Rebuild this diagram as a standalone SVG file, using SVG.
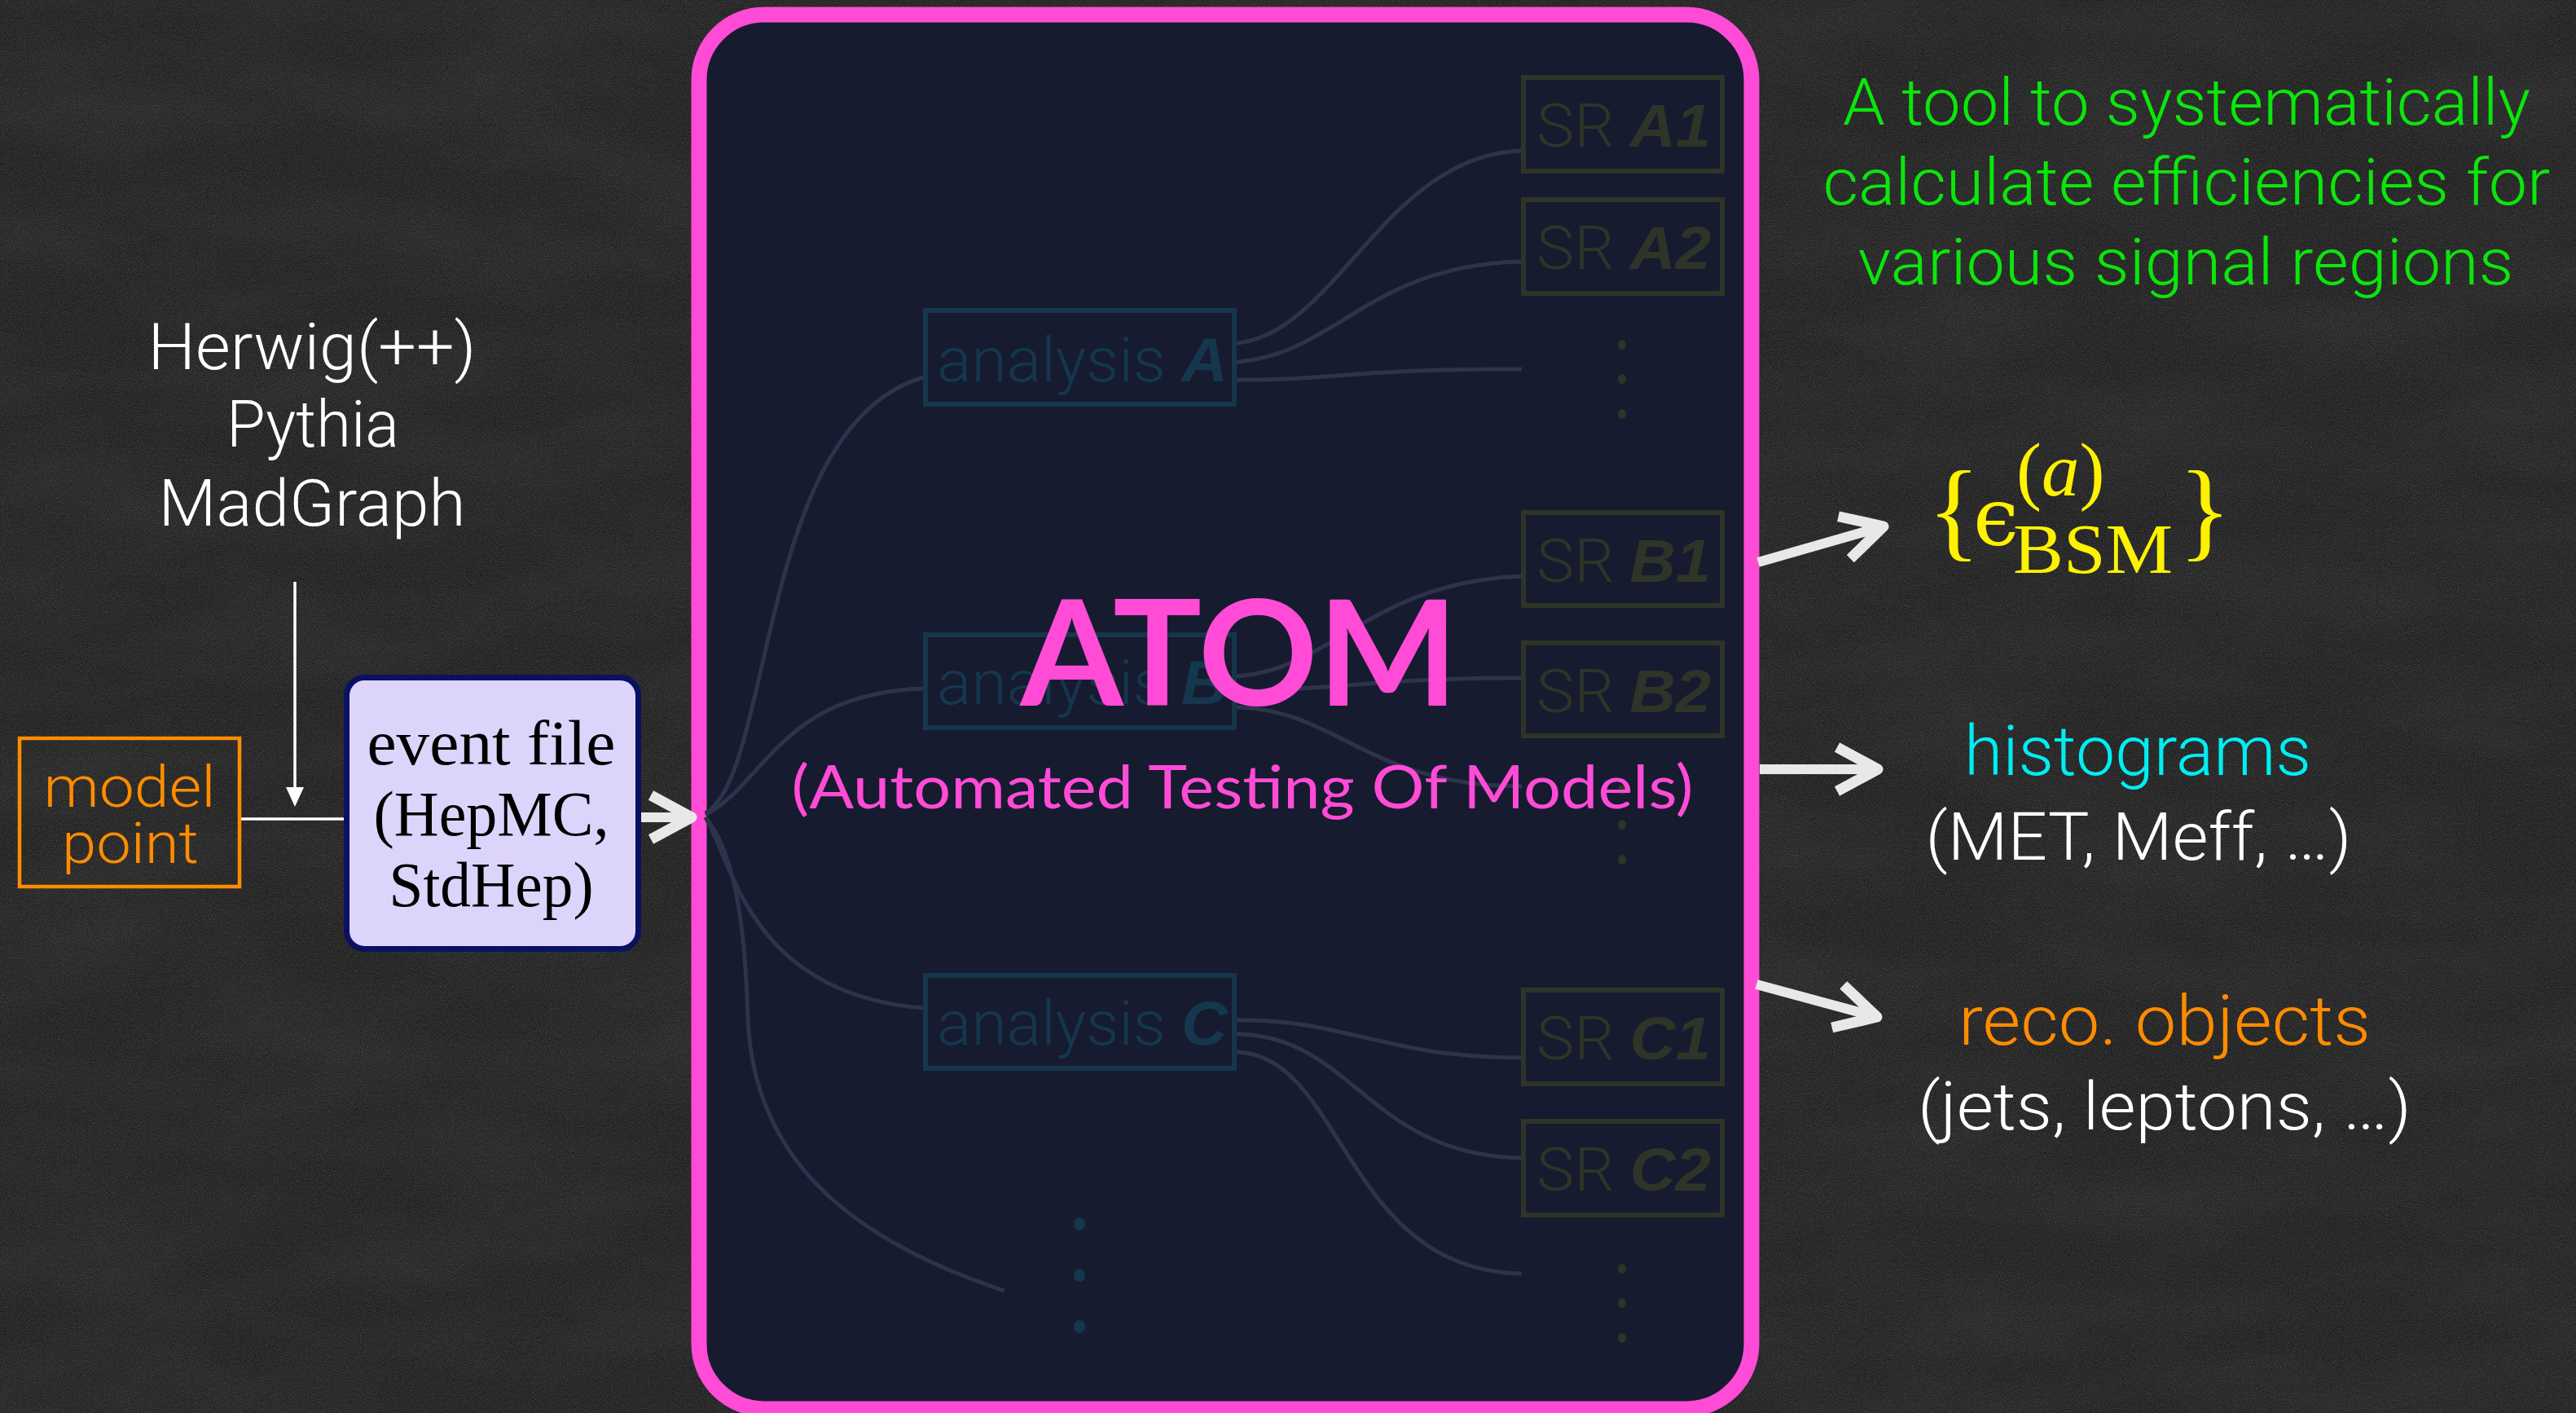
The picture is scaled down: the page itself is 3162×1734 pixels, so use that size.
<svg xmlns="http://www.w3.org/2000/svg" width="3162" height="1734" viewBox="0 0 3162 1734">
<defs>
<style>
.light{font-family:Roboto,"Liberation Sans",sans-serif;font-weight:300}
.conn{fill:none;stroke:#2e334c;stroke-width:5}
.anbox{fill:none;stroke:#15364b;stroke-width:6}
.srbox{fill:none;stroke:#2f3428;stroke-width:6}
.antxt{font-family:Roboto,"Liberation Sans",sans-serif;font-weight:300;font-size:76px;fill:#15374d}
.srtxt{font-family:Roboto,"Liberation Sans",sans-serif;font-weight:300;font-size:74px;fill:#2f3428}
.bi{font-family:"Liberation Sans",Arial,sans-serif;font-weight:700;font-style:italic}
.srdot{fill:#2f3428}
.andot{fill:#15374d}
.warrow{fill:none;stroke:#e8e8e8;stroke-width:12}
.serif{font-family:"Liberation Serif","Times New Roman",serif}
.math{font-family:"Liberation Serif","DejaVu Serif",serif;fill:#fff200}
</style>
<filter id="chalk" x="0" y="0" width="100%" height="100%" filterUnits="userSpaceOnUse">
<feTurbulence type="fractalNoise" baseFrequency="0.85" numOctaves="2" seed="7" result="n"/>
<feColorMatrix in="n" type="matrix" values="0 0 0 0 1  0 0 0 0 1  0 0 0 0 1  0.32 0 0 0 -0.11" result="speck"/>
<feTurbulence type="fractalNoise" baseFrequency="0.004 0.012" numOctaves="3" seed="2" result="s"/>
<feColorMatrix in="s" type="matrix" values="0 0 0 0 1  0 0 0 0 1  0 0 0 0 1  0.06 0 0 0 -0.02" result="streak"/>
<feMerge><feMergeNode in="streak"/><feMergeNode in="speck"/></feMerge>
</filter>
<marker id="chev" markerUnits="userSpaceOnUse" viewBox="-60 -36 70 72" refX="0" refY="0" markerWidth="70" markerHeight="72" orient="auto">
<path d="M-50,-27 L0,0 L-50,27" fill="none" stroke="#e8e8e8" stroke-width="13" stroke-linejoin="round"/>
</marker>
</defs>

<g id="background">
<rect x="0" y="0" width="3162" height="1734" fill="#1e1e1e"/>
<rect x="0" y="0" width="3162" height="1734" fill="#000" filter="url(#chalk)"/>
</g>

<g id="atom-frame">
<rect x="858" y="18" width="1292" height="1711" rx="80" ry="80" fill="#161b2f" stroke="#ff4bd6" stroke-width="19"/>
</g>

<g id="connectors">
<path class="conn" d="M866,998 C950,950 930,520 1134,463"/>
<path class="conn" d="M866,1000 C940,960 960,850 1134,845"/>
<path class="conn" d="M866,1003 C900,1060 920,1220 1134,1237"/>
<path class="conn" d="M866,1003 C905,1050 915,1150 918,1250 C925,1420 1040,1520 1233,1584"/>
<path class="conn" d="M1518,421 C1640,410 1700,190 1868,185"/>
<path class="conn" d="M1518,444 C1640,435 1680,325 1868,321"/>
<path class="conn" d="M1518,466 C1650,466 1650,453 1868,453"/>
<path class="conn" d="M1518,830 C1640,820 1680,715 1868,707"/>
<path class="conn" d="M1518,849 C1650,845 1700,832 1868,832"/>
<path class="conn" d="M1518,868 C1640,870 1680,965 1868,965"/>
<path class="conn" d="M1518,1252 C1650,1250 1700,1298 1868,1298"/>
<path class="conn" d="M1518,1269 C1660,1270 1680,1418 1868,1421"/>
<path class="conn" d="M1518,1291 C1650,1295 1650,1560 1868,1563"/>
<line x1="362" y1="714" x2="362" y2="970" stroke="#ffffff" stroke-width="3.5"/>
<polygon points="351,966 373,966 362,990" fill="#ffffff"/>
<line x1="296" y1="1005" x2="424" y2="1005" stroke="#ffffff" stroke-width="3.5"/>
<path class="warrow" d="M782,1003 L849,1003" marker-end="url(#chev)"/>
<path class="warrow" d="M2158,690 L2312,646" marker-end="url(#chev)"/>
<path class="warrow" d="M2160,944 L2305,944" marker-end="url(#chev)"/>
<path class="warrow" d="M2156,1208 L2304,1248" marker-end="url(#chev)"/>
</g>

<g id="analysis-A">
<rect class="anbox" x="1136" y="381" width="379" height="115"/>
<text class="antxt" x="1150" y="468" textLength="357" lengthAdjust="spacingAndGlyphs">analysis <tspan class="bi">A</tspan></text>
</g>
<g id="analysis-B">
<rect class="anbox" x="1136" y="779" width="379" height="114"/>
<text class="antxt" x="1150" y="864" textLength="357" lengthAdjust="spacingAndGlyphs">analysis <tspan class="bi">B</tspan></text>
</g>
<g id="analysis-C">
<rect class="anbox" x="1136" y="1197" width="379" height="114"/>
<text class="antxt" x="1150" y="1282" textLength="357" lengthAdjust="spacingAndGlyphs">analysis <tspan class="bi">C</tspan></text>
</g>
<g id="analysis-dots">
<ellipse class="andot" cx="1325" cy="1502" rx="7" ry="8"/>
<ellipse class="andot" cx="1325" cy="1565" rx="7" ry="8"/>
<ellipse class="andot" cx="1325" cy="1628" rx="7" ry="8"/>
</g>

<g id="SR-A1">
<rect class="srbox" x="1870" y="95" width="244" height="115"/>
<text class="srtxt" x="1886" y="180" textLength="214" lengthAdjust="spacingAndGlyphs">SR <tspan class="bi">A1</tspan></text>
</g>
<g id="SR-A2">
<rect class="srbox" x="1870" y="245" width="244" height="115"/>
<text class="srtxt" x="1886" y="330" textLength="214" lengthAdjust="spacingAndGlyphs">SR <tspan class="bi">A2</tspan></text>
</g>
<g id="SR-A-dots">
<ellipse class="srdot" cx="1991" cy="423" rx="5" ry="6"/>
<ellipse class="srdot" cx="1991" cy="465" rx="5" ry="6"/>
<ellipse class="srdot" cx="1991" cy="508" rx="5" ry="6"/>
</g>
<g id="SR-B1">
<rect class="srbox" x="1870" y="629" width="244" height="114"/>
<text class="srtxt" x="1886" y="714" textLength="214" lengthAdjust="spacingAndGlyphs">SR <tspan class="bi">B1</tspan></text>
</g>
<g id="SR-B2">
<rect class="srbox" x="1870" y="789" width="244" height="114"/>
<text class="srtxt" x="1886" y="874" textLength="214" lengthAdjust="spacingAndGlyphs">SR <tspan class="bi">B2</tspan></text>
</g>
<g id="SR-B-dots">
<ellipse class="srdot" cx="1991" cy="969" rx="5" ry="6"/>
<ellipse class="srdot" cx="1991" cy="1012" rx="5" ry="6"/>
<ellipse class="srdot" cx="1991" cy="1055" rx="5" ry="6"/>
</g>
<g id="SR-C1">
<rect class="srbox" x="1870" y="1215" width="244" height="115"/>
<text class="srtxt" x="1886" y="1300" textLength="214" lengthAdjust="spacingAndGlyphs">SR <tspan class="bi">C1</tspan></text>
</g>
<g id="SR-C2">
<rect class="srbox" x="1870" y="1376" width="244" height="115"/>
<text class="srtxt" x="1886" y="1461" textLength="214" lengthAdjust="spacingAndGlyphs">SR <tspan class="bi">C2</tspan></text>
</g>
<g id="SR-C-dots">
<ellipse class="srdot" cx="1991" cy="1557" rx="5" ry="6"/>
<ellipse class="srdot" cx="1991" cy="1599" rx="5" ry="6"/>
<ellipse class="srdot" cx="1991" cy="1642" rx="5" ry="6"/>
</g>

<g id="atom-title">
<text x="1521" y="866" text-anchor="middle" font-family="Lato,'Open Sans',sans-serif" font-weight="700" font-size="180" fill="#ff4bd6" textLength="537" lengthAdjust="spacingAndGlyphs">ATOM</text>
<text x="1525" y="992" text-anchor="middle" font-family="Lato,'Open Sans',sans-serif" font-weight="400" font-size="74" fill="#ff4bd6" textLength="1107" lengthAdjust="spacingAndGlyphs">(Automated Testing Of Models)</text>
</g>

<g id="generators">
<text class="light" x="383" y="453" text-anchor="middle" font-size="80" fill="#ffffff" textLength="403" lengthAdjust="spacingAndGlyphs">Herwig(++)</text>
<text class="light" x="384" y="548" text-anchor="middle" font-size="80" fill="#ffffff" textLength="212" lengthAdjust="spacingAndGlyphs">Pythia</text>
<text class="light" x="383" y="645" text-anchor="middle" font-size="80" fill="#ffffff" textLength="377" lengthAdjust="spacingAndGlyphs">MadGraph</text>
</g>

<g id="model-point">
<rect x="24" y="906" width="270" height="182" fill="none" stroke="#ff8c00" stroke-width="4.5"/>
<text class="light" x="159" y="990" text-anchor="middle" font-size="70" fill="#ff8c00" textLength="211" lengthAdjust="spacingAndGlyphs">model</text>
<text class="light" x="160" y="1059" text-anchor="middle" font-size="70" fill="#ff8c00" textLength="168" lengthAdjust="spacingAndGlyphs">point</text>
</g>

<g id="event-file">
<rect x="425.5" y="831.5" width="358" height="333" rx="22" ry="22" fill="#ddd4fb" stroke="#0b1160" stroke-width="7"/>
<text class="serif" x="603" y="938" text-anchor="middle" font-size="78" fill="#000000" textLength="305" lengthAdjust="spacingAndGlyphs">event file</text>
<text class="serif" x="603" y="1025" text-anchor="middle" font-size="78" fill="#000000" textLength="289" lengthAdjust="spacingAndGlyphs">(HepMC,</text>
<text class="serif" x="603" y="1112" text-anchor="middle" font-size="78" fill="#000000" textLength="251" lengthAdjust="spacingAndGlyphs">StdHep)</text>
</g>

<g id="description">
<text class="light" x="2684" y="153" text-anchor="middle" font-size="80" fill="#0be60b" textLength="844" lengthAdjust="spacingAndGlyphs">A tool to systematically</text>
<text class="light" x="2684" y="251" text-anchor="middle" font-size="80" fill="#0be60b" textLength="893" lengthAdjust="spacingAndGlyphs">calculate efficiencies for</text>
<text class="light" x="2683" y="349" text-anchor="middle" font-size="80" fill="#0be60b" textLength="805" lengthAdjust="spacingAndGlyphs">various signal regions</text>
</g>

<g id="efficiency">
<text class="math" x="2366" y="671" font-size="135">{</text>
<text x="2422" y="669" font-family="'DejaVu Serif',serif" font-size="100" fill="#fff200">ϵ</text>
<text class="math" x="2475" y="608" font-size="93">(<tspan font-style="italic">a</tspan>)</text>
<text class="math" x="2471" y="703" font-size="86" textLength="196" lengthAdjust="spacingAndGlyphs">BSM</text>
<text class="math" x="2674" y="671" font-size="135">}</text>
</g>

<g id="histograms">
<text class="light" x="2624" y="951" text-anchor="middle" font-size="85" fill="#00eef2" textLength="426" lengthAdjust="spacingAndGlyphs">histograms</text>
<text class="light" x="2625" y="1055" text-anchor="middle" font-size="82" fill="#ffffff" textLength="523" lengthAdjust="spacingAndGlyphs">(MET, Meff, …)</text>
</g>

<g id="reco-objects">
<text class="light" x="2657" y="1282" text-anchor="middle" font-size="85" fill="#ff8c00" textLength="506" lengthAdjust="spacingAndGlyphs">reco. objects</text>
<text class="light" x="2657" y="1386" text-anchor="middle" font-size="82" fill="#ffffff" textLength="606" lengthAdjust="spacingAndGlyphs">(jets, leptons, …)</text>
</g>
</svg>
